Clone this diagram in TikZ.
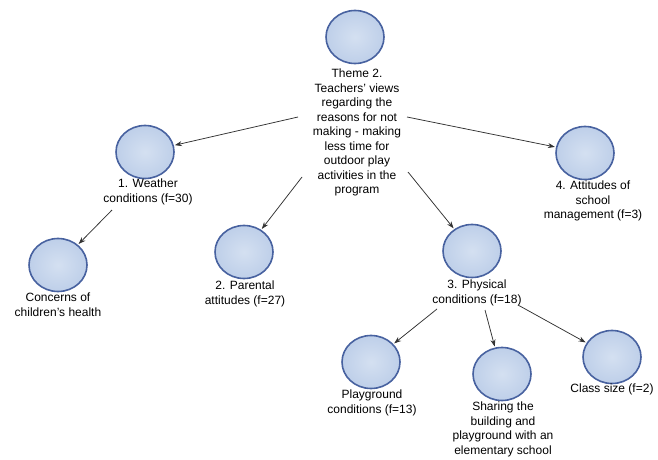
\documentclass[tikz,border=0pt]{standalone}
\usepackage{fontspec}
\setmainfont{Liberation Sans}
\usetikzlibrary{shapes.geometric,arrows.meta}
\definecolor{ballfill}{RGB}{190,207,233}
\definecolor{ballin}{RGB}{212,224,241}
\definecolor{ballrim}{RGB}{72,98,160}
\definecolor{arrowgray}{RGB}{50,50,50}
\tikzset{
  ball/.style={ellipse, minimum width=58pt, minimum height=53pt, inner sep=0pt,
    draw=ballrim, line width=1.6pt, inner color=ballin, outer color=ballfill},
  caption/.style={anchor=north, align=center, inner sep=0pt,
    font=\fontsize{12pt}{14.5pt}\selectfont},
  arr/.style={draw=arrowgray, line width=0.75pt, -{Stealth[length=7pt,width=5pt]}, shorten >=1pt}
}
\begin{document}
\begin{tikzpicture}[x=1pt, y=-1pt]
\useasboundingbox (0,0) rectangle (658,460);
\fill[white] (0,0) rectangle (658,460);

% circles
\node[ball] (c0)  at (355,37)  {};
\node[ball] (c1)  at (145,152) {};
\node[ball] (c1a) at (58,265)  {};
\node[ball] (c2)  at (244,252) {};
\node[ball] (c3)  at (472,251) {};
\node[ball] (c4)  at (585,153) {};
\node[ball] (c3a) at (371,362) {};
\node[ball] (c3b) at (502,374) {};
\node[ball] (c3c) at (612,357) {};

% captions
\node[caption] (t0)  at (357,69)  {Theme 2.\\Teachers' views\\regarding the\\reasons for not\\making - making\\less time for\\outdoor play\\activities in the\\program};
\node[caption] (t1)  at (148,179) {1. Weather\\conditions (f=30)};
\node[caption] (t1a) at (58,293)  {Concerns of\\children's health};
\node[caption] (t2)  at (245,281) {2. Parental\\attitudes (f=27)};
\node[caption] (t3)  at (477,280) {3. Physical\\conditions (f=18)};
\node[caption] (t4)  at (593,181) {4. Attitudes of\\school\\management (f=3)};
\node[caption] (t3a) at (372,390) {Playground\\conditions (f=13)};
\node[caption] (t3b) at (503,402) {Sharing the\\building and\\playground with an\\elementary school};
\node[caption] (t3c) at (612,384) {Class size (f=2)};

% connector start points beside the captions
\coordinate (s1)  at (298,117);
\coordinate (s2)  at (302,177);
\coordinate (s3)  at (407,117);
\coordinate (s4)  at (408,172);
\coordinate (s1a) at (112,210);
\coordinate (s3a) at (437,309);
\coordinate (s3b) at (485,310);
\coordinate (s3c) at (518,305);

\draw[arr] (s1)  -- (c1);
\draw[arr] (s2)  -- (c2);
\draw[arr] (s3)  -- (c4);
\draw[arr] (s4)  -- (c3);
\draw[arr] (s1a) -- (c1a);
\draw[arr] (s3a) -- (c3a);
\draw[arr] (s3b) -- (c3b);
\draw[arr] (s3c) -- (c3c);
\end{tikzpicture}
\end{document}
